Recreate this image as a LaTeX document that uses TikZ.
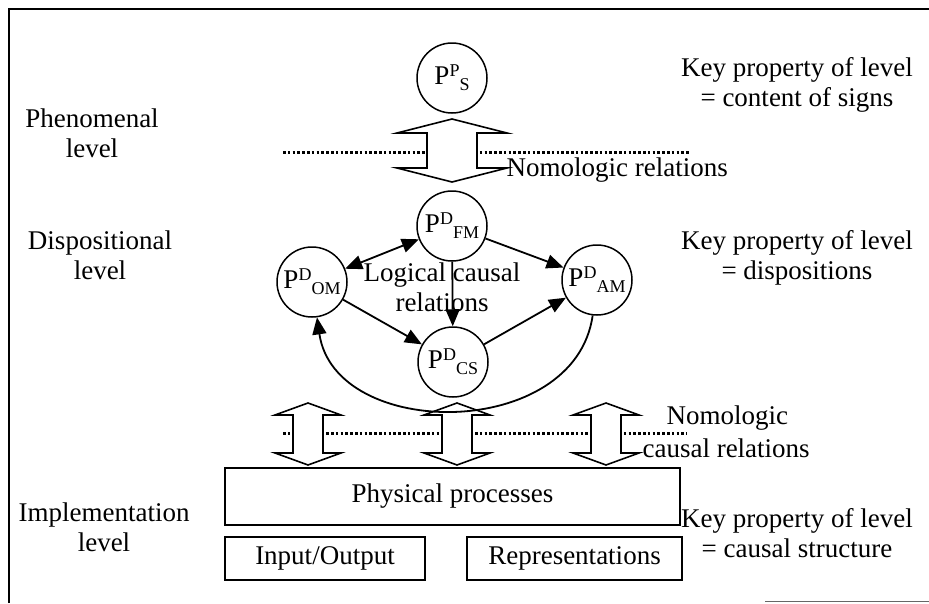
\documentclass[tikz,border=0pt]{standalone}
\usepackage{fontspec}
\setmainfont{Liberation Serif}
\usetikzlibrary{arrows.meta}

% hollow double-headed block arrow: x centre, y top, y bottom, head half-width, shaft half-width, head length
\newcommand{\blockarrow}[6]{%
  \draw[blockline] (#1,#2) -- (#1+#4,#2+#6) -- (#1+#5,#2+#6) -- (#1+#5,#3-#6)
    -- (#1+#4,#3-#6) -- (#1,#3) -- (#1-#4,#3-#6) -- (#1-#5,#3-#6)
    -- (#1-#5,#2+#6) -- (#1-#4,#2+#6) -- cycle;}

% state symbol P with a superscript and a following subscript
\newcommand{\pstate}[2]{P\raisebox{8pt}{\fontsize{18}{18}\selectfont #1}\raisebox{-6pt}{\fontsize{18}{18}\selectfont #2}}

\begin{document}
\begin{tikzpicture}[x=1pt,y=-1pt,
  every node/.style={font=\fontsize{27}{30}\selectfont},
  state/.style={circle, draw, line width=1.5pt, minimum size=70pt, inner sep=0pt},
  procbox/.style={draw, line width=1.2pt, inner sep=0pt},
  tip/.tip={Triangle[length=17pt,width=14pt]},
  link/.style={line width=1.8pt, -tip},
  sepline/.style={line width=3pt, dash pattern=on 2.6pt off 2.2pt},
  blockline/.style={line width=1.6pt, fill=white, line join=miter},
  lvltext/.style={align=center}
]
\useasboundingbox (0,0) rectangle (929,603);

% frame
\draw[line width=1.8pt] (9,603) -- (9,9) -- (929,9);
\draw[line width=0.8pt, black!60] (765,601) -- (929,601);

% level boundaries
\draw[sepline] (283,152) -- (690,152);
\draw[sepline] (283,433) -- (687,433);

% level names
\node[lvltext] (phen) at (92,133) {Phenomenal\\level};
\node[lvltext] (disp) at (100,255) {Dispositional\\level};
\node[lvltext] (impl) at (104,527) {Implementation\\level};

% key properties
\node[lvltext] (kp1) at (797,85) {Key property of level\\= content of signs};
\node[lvltext] (kp2) at (797,258) {Key property of level\\= dispositions};
\node[lvltext] (kp3) at (797,533) {Key property of level\\= causal structure};

% phenomenal state
\node[state] (ps) at (452,78) {\pstate{P}{S}};

% dispositional states
\node[state] (fm) at (452,226) {\pstate{D}{FM}};
\node[state] (om) at (312,282) {\pstate{D}{OM}};
\node[state] (am) at (597,280) {\pstate{D}{AM}};
\node[state] (cs) at (453,362) {\pstate{D}{CS}};

% nomologic relations between levels
\blockarrow{452}{119}{182}{55}{25}{14}
\node[anchor=west] (nomo) at (503,170) {Nomologic relations};

\blockarrow{308}{403}{465}{33}{15}{12}
\blockarrow{457}{403}{465}{33}{15}{12}
\blockarrow{606}{403}{465}{33}{15}{12}
\node[anchor=west] (nomoa) at (663,418) {Nomologic};
\node[anchor=west] (nomob) at (639,448) {causal relations};

% logical causal relations
\node[lvltext] (logic) at (442,287) {Logical causal\\relations};
\draw[link, tip-tip] (om) -- (fm);
\draw[link] (fm) -- (am);
\draw[link] (fm) -- (cs);
\draw[link] (om) -- (cs);
\draw[link] (cs) -- (am);
\draw[link] (am.263) .. controls (575,441) and (335,441) .. (om.278);

% physical implementation
\node[procbox, minimum width=455pt, minimum height=57pt] (phys) at (452.5,496.5) {Physical processes};
\node[procbox, minimum width=200pt, minimum height=43pt] (io) at (325,558.5) {Input/Output};
\node[procbox, minimum width=215pt, minimum height=43pt] (rep) at (574.5,558.5) {Representations};
\end{tikzpicture}
\end{document}
